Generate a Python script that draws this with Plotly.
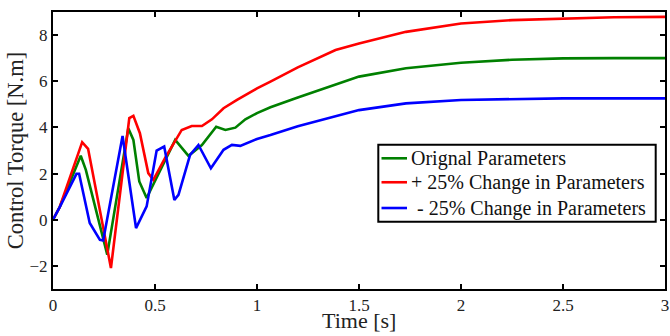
import plotly.graph_objects as go

t_orig = [0, 0.033, 0.136, 0.161, 0.266, 0.369, 0.394, 0.423, 0.459, 0.525, 0.599, 0.664, 0.73, 0.8, 0.845, 0.894, 0.943, 1.0, 1.066, 1.2, 1.385, 1.5, 1.73, 2.0, 2.25, 2.5, 2.75, 3.0]
y_orig = [0, 0.55, 2.77, 2.16, -1.51, 3.96, 3.46, 1.66, 0.94, 2.16, 3.46, 2.77, 3.24, 4.03, 3.89, 3.99, 4.35, 4.62, 4.87, 5.3, 5.84, 6.2, 6.56, 6.8, 6.93, 6.99, 7.0, 7.0]

t_plus = [0, 0.033, 0.143, 0.172, 0.284, 0.374, 0.394, 0.426, 0.467, 0.492, 0.549, 0.631, 0.68, 0.73, 0.779, 0.836, 0.902, 1.0, 1.066, 1.2, 1.385, 1.5, 1.73, 2.0, 2.25, 2.5, 2.75, 3.0]
y_plus = [0, 0.55, 3.36, 3.07, -2.09, 4.4, 4.5, 3.75, 2.02, 1.73, 2.67, 3.89, 4.06, 4.06, 4.35, 4.83, 5.19, 5.69, 5.98, 6.6, 7.35, 7.64, 8.14, 8.5, 8.65, 8.72, 8.77, 8.79]

t_minus = [0, 0.033, 0.115, 0.128, 0.18, 0.23, 0.246, 0.341, 0.407, 0.459, 0.508, 0.545, 0.595, 0.615, 0.672, 0.713, 0.774, 0.836, 0.877, 0.918, 1.0, 1.066, 1.2, 1.385, 1.5, 1.73, 2.0, 2.5, 3.0]
y_minus = [0, 0.55, 1.99, 1.99, -0.14, -0.87, -0.9, 3.63, -0.36, 0.58, 3.0, 3.17, 0.86, 1.08, 2.81, 3.24, 2.23, 3.03, 3.24, 3.2, 3.5, 3.67, 4.05, 4.47, 4.75, 5.04, 5.19, 5.26, 5.26]

names = ["Orignal Parameters", "+ 25% Change in Parameters", "- 25% Change in Parameters"]
colors = ["#008000", "#ff0000", "#0000ff"]

x_ticks = [0, 0.5, 1, 1.5, 2, 2.5, 3]
x_tick_labels = ["0", "0.5", "1", "1.5", "2", "2.5", "3"]
y_ticks = [-2, 0, 2, 4, 6, 8]
x_title = "Time [s]"
y_title = "Control Torque [N.m]"

FONT = "Liberation Serif"

fig = go.Figure()
for t, y, n, c in zip([t_orig, t_plus, t_minus], [y_orig, y_plus, y_minus], names, colors):
    fig.add_trace(go.Scatter(x=t, y=y, mode="lines", name=n, showlegend=False,
                             line=dict(color=c, width=2.6)))

axis_common = dict(showline=True, mirror="ticks", linecolor="black", linewidth=2,
                   ticks="inside", ticklen=5, tickwidth=1.5, tickcolor="black",
                   showgrid=False, zeroline=False, automargin=False,
                   ticklabeloverflow="allow",
                   tickfont=dict(family=FONT, size=17, color="#222"))

fig.update_xaxes(range=[0, 3], tickvals=x_ticks, ticktext=x_tick_labels, **axis_common)
fig.update_yaxes(range=[-3, 9], tickvals=y_ticks,
                 title=dict(text=y_title, font=dict(family=FONT, size=22.5, color="#222"), standoff=0),
                 **axis_common)

# ---- plot-area edges in page pixels, used to place legend box and x title ----
PL, PR, PT, PB = 53.0, 665.0, 12.0, 289.4


def px(x):
    return (x - PL) / (PR - PL)


def py(y):
    return (PB - y) / (PB - PT)


shapes = [dict(type="rect", xref="paper", yref="paper",
               x0=px(378.3), x1=px(655.7), y0=py(222), y1=py(145),
               line=dict(color="black", width=2), fillcolor="white", layer="above")]
annotations = []
row_y = [158.5, 182.5, 208.3]
text_x = [408.5, 408.5, 414.5]
for n, c, ry, tx in zip(names, colors, row_y, text_x):
    shapes.append(dict(type="line", xref="paper", yref="paper",
                       x0=px(381.5), x1=px(407), y0=py(ry), y1=py(ry),
                       line=dict(color=c, width=2.6), layer="above"))
    annotations.append(dict(text=n, xref="paper", yref="paper",
                            x=px(tx), y=py(ry + 0.5), xanchor="left", yanchor="middle",
                            showarrow=False, font=dict(family=FONT, size=20, color="#111")))

# x-axis title
annotations.append(dict(text=x_title, xref="paper", yref="paper",
                        x=0.5, y=py(321), xanchor="center", yanchor="middle",
                        showarrow=False, font=dict(family=FONT, size=22, color="#222")))

fig.update_layout(
    width=670, height=336,
    margin=dict(l=PL, r=670 - PR, t=PT, b=336 - PB),
    paper_bgcolor="white", plot_bgcolor="white",
    showlegend=False,
    shapes=shapes, annotations=annotations,
)

# remove the default page margin so the 670x336 figure fills the window exactly
fig.write_html("out.html",
               config={"displayModeBar": False},
               post_script="document.body.style.margin='0';document.body.style.overflow='hidden';")
